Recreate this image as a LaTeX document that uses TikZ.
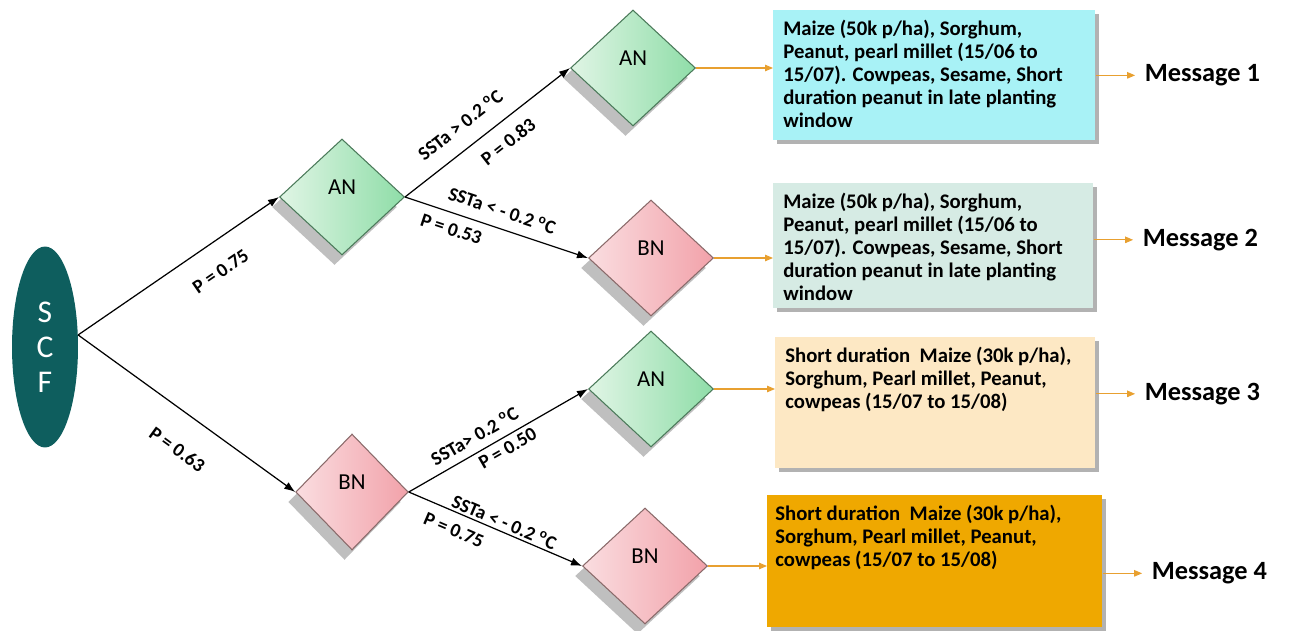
\documentclass[tikz,border=0pt]{standalone}
\usepackage{fontspec}
\setmainfont{Carlito}
\usetikzlibrary{arrows.meta,positioning,shapes.geometric,shadows}
\definecolor{scfteal}{HTML}{0E5E5E}
\definecolor{anlight}{HTML}{E0F5E5}
\definecolor{andark}{HTML}{8FDDA8}
\definecolor{anline}{HTML}{4B7A5A}
\definecolor{bnlight}{HTML}{FADDE0}
\definecolor{bndark}{HTML}{F2A2AA}
\definecolor{bnline}{HTML}{8A6A6A}
\definecolor{msgorange}{HTML}{E8A030}
\definecolor{cropcyan}{HTML}{A8F2F6}
\definecolor{cropgreen}{HTML}{D6EBE4}
\definecolor{croppeach}{HTML}{FDE8C4}
\definecolor{croporange}{HTML}{EFA800}

\begin{document}
\begin{tikzpicture}[x=0.02cm, y=-0.02cm, font=\fontsize{11}{13}\selectfont\bfseries]
\tikzstyle{fcst}=[diamond, minimum width=2.5cm, minimum height=2.32cm, inner sep=0pt, line width=0.6pt, font=\fontsize{13}{15}\selectfont, text height=0.3cm, text depth=0.4cm, drop shadow={shadow xshift=-0.15cm, shadow yshift=-0.2cm, fill=black!25, opacity=1}]
\tikzstyle{an}=[fcst, draw=anline, left color=anlight, right color=andark]
\tikzstyle{bn}=[fcst, draw=bnline, left color=bnlight, right color=bndark]
\tikzstyle{crop}=[anchor=north west, inner xsep=0.2cm, inner ysep=0.2cm, font=\fontsize{11.8}{13}\selectfont\bfseries, drop shadow={shadow xshift=0.07cm, shadow yshift=-0.08cm, fill=black!30, opacity=1}]
\tikzstyle{msg}=[font=\fontsize{15}{18}\selectfont\bfseries]
\tikzstyle{lbl}=[sloped, inner sep=0pt]
\tikzstyle{arr}=[line width=0.7pt, -{Latex[length=2.2mm,width=1.6mm]}]
\tikzstyle{oarr}=[msgorange, line width=0.6pt, -{Triangle[length=1.6mm,width=1.3mm]}]
\useasboundingbox (0,0) rectangle (1293,631);

\node[ellipse, fill=scfteal, minimum width=1.32cm, minimum height=4.02cm, inner sep=0pt, text=white, align=center, font=\fontsize{18}{19.8}\selectfont] (scf) at (45,347) {S\\C\\F};

% seasonal forecast tree
\node[an] (an1) at (342,197) {AN};
\node[bn, minimum width=2.25cm] (bn1) at (352,492) {BN};
\node[an] (an2) at (633,68) {AN};
\node[bn] (bn2) at (651,258) {BN};
\node[an] (an3) at (651,389) {AN};
\node[bn] (bn4) at (645,566) {BN};

\draw[arr] (scf.20) -- node[lbl, below=12pt, pos=0.63] {P = 0.75} (an1.west);
\draw[arr] (scf.20) -- node[lbl, below=15.5pt, pos=0.55] {P = 0.63} (bn1.west);
\draw[arr] (an1.east) -- node[lbl, above=8.8pt, pos=0.42] {SSTa > 0.2 \textsuperscript{o}C} node[lbl, below=7.2pt, pos=0.55] {P = 0.83} (an2.west);
\draw[arr] (an1.east) -- node[lbl, above=6pt, pos=0.5] {SSTa < - 0.2 \textsuperscript{o}C} node[lbl, below=5pt, pos=0.28] {P = 0.53} (bn2.west);
\draw[arr] (bn1.east) -- node[lbl, above=4.6pt, pos=0.41] {SSTa> 0.2 \textsuperscript{o}C} node[lbl, below=2.4pt, pos=0.52] {P = 0.50} (an3.west);
\draw[arr] (bn1.east) -- node[lbl, above=1.2pt, pos=0.53] {SSTa < - 0.2 \textsuperscript{o}C} node[lbl, below=6pt, pos=0.3] {P = 0.75} (bn4.west);

% crop advisories
\node[crop, fill=cropcyan] (b1) at (773,10) {\parbox[c][2.2cm][t]{6.04cm}{Maize (50k p/ha), Sorghum,\\Peanut, pearl millet (15/06 to\\15/07). Cowpeas, Sesame, Short\\duration peanut in late planting\\window}};
\node[crop, fill=cropgreen] (b2) at (773,183) {\parbox[c][2.1cm][t]{6.0cm}{Maize (50k p/ha), Sorghum,\\Peanut, pearl millet (15/06 to\\15/07). Cowpeas, Sesame, Short\\duration peanut in late planting\\window}};
\node[crop, fill=croppeach] (b3) at (775,337) {\parbox[c][2.22cm][t]{6.0cm}{Short duration\ \ Maize (30k p/ha),\\Sorghum, Pearl millet, Peanut,\\cowpeas (15/07 to 15/08)}};
\node[crop, fill=croporange, inner xsep=0.16cm] (b4) at (767,495) {\parbox[c][2.24cm][t]{6.38cm}{Short duration\ \ Maize (30k p/ha),\\Sorghum, Pearl millet, Peanut,\\cowpeas (15/07 to 15/08)}};

\node[msg, right=0.86cm of b1] (m1) {Message 1};
\node[msg, right=0.86cm of b2, yshift=0.12cm] (m2) {Message 2};
\node[msg, right=0.86cm of b3, yshift=0.18cm] (m3) {Message 3};
\node[msg, right=0.86cm of b4, yshift=-0.24cm] (m4) {Message 4};

\draw[oarr] (an2.east) -- (an2.east -| b1.west);
\draw[oarr] (bn2.east) -- (bn2.east -| b2.west);
\draw[oarr] (an3.east) -- (an3.east -| b3.west);
\draw[oarr] (bn4.east) -- (bn4.east -| b4.west);
\foreach \b/\m in {b1/m1,b2/m2,b3/m3,b4/m4}{\draw[oarr, shorten >=2pt] (\b.east |- \m.west) -- (\m.west);}
\end{tikzpicture}
\end{document}
